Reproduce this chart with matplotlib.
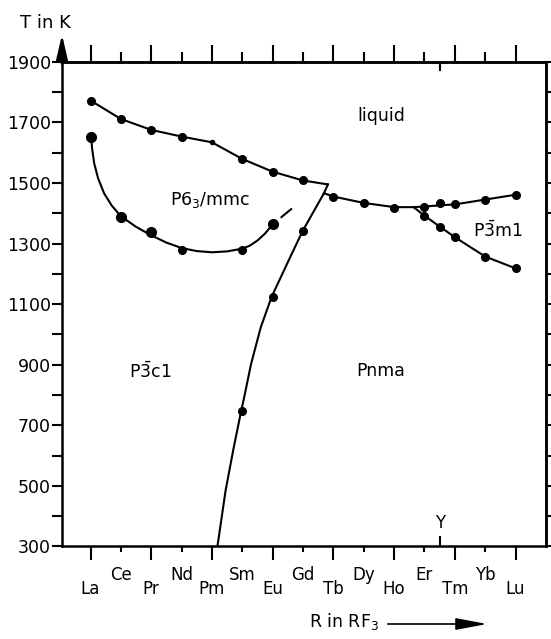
import numpy as np
import matplotlib
matplotlib.use("Agg")
import matplotlib.pyplot as plt
import matplotlib.transforms as mtransforms
from matplotlib import patches

plt.rcParams['font.family'] = ['DejaVu Sans']

# rare earth elements along the x axis (category index = position)
elements = ["La", "Ce", "Pr", "Nd", "Pm", "Sm", "Eu", "Gd",
            "Tb", "Dy", "Ho", "Er", "Tm", "Yb", "Lu"]
y_pos = 11.5  # position of yttrium

# liquidus, La..Gd side (measured points)
liq_left_x = [0, 1, 2, 3, 5, 6, 7]
liq_left_T = [1772, 1711, 1675, 1653, 1579, 1537, 1508]
pm_x = [4]
pm_T = [1634]
liq_left_line_x = [0, 1, 2, 3, 4, 5, 6, 7, 7.82]
liq_left_line_T = [1772, 1711, 1675, 1653, 1634, 1579, 1537, 1508, 1495]

# short step at the triple point
step_x = [7.82, 7.69]
step_T = [1495, 1466]

# liquidus, Tb..Lu side
liq_right_x = [8, 9, 10, 11, 11.5, 12, 13, 14]
liq_right_T = [1455, 1434, 1418, 1422, 1433, 1431, 1445, 1461]
liq_right_line_x = [7.69, 8, 9, 10, 10.64, 11, 11.5, 12, 13, 14]
liq_right_line_T = [1466, 1455, 1434, 1420, 1420, 1422, 1426, 1429, 1445, 1461]

# P-3m1 / Pnma boundary
trig_x = [11, 11.5, 12, 13, 14]
trig_T = [1392, 1356, 1321, 1257, 1218]
trig_line_x = [10.64, 11, 11.5, 12, 13, 14]
trig_line_T = [1420, 1392, 1356, 1321, 1257, 1218]

# P6_3/mmc lower boundary
hex_x = [0, 1, 2, 3, 5, 6]
hex_T = [1651, 1387, 1337, 1277, 1280, 1363]
hex_big = [True, True, True, False, False, True]
hex_line_x = [0.02, 0.05, 0.12, 0.25, 0.45, 0.7, 1.0, 1.5, 2.0, 2.5, 3.0,
              3.5, 4.0, 4.5, 5.0, 5.25, 5.5, 5.75, 6.0]
hex_line_T = [1651, 1615, 1565, 1515, 1465, 1425, 1390, 1355, 1327, 1303, 1285,
              1275, 1271, 1274, 1283, 1293, 1310, 1333, 1363]
hex_dash_x = [6.0, 6.71]
hex_dash_T = [1363, 1422]

# P-3c1 / Pnma boundary
orth_x = [7, 6, 5]
orth_T = [1340, 1125, 746]
orth_line_x = [7.69, 6.98, 6.47, 5.97, 5.61, 5.29, 5.04, 4.96, 4.72, 4.45, 4.18]
orth_line_T = [1466, 1340, 1232, 1125, 1024, 903, 782, 746, 628, 485, 300]

# phase labels
phase_names = ["liquid", "P6$_3$/mmc", "P$\\bar{3}$m1", "P$\\bar{3}$c1", "Pnma"]
phase_x = [9.59, 3.95, 13.43, 1.96, 9.57]
phase_T = [1722, 1442, 1343, 878, 878]

fig = plt.figure(figsize=(5.51, 6.39), dpi=100)
ax = fig.add_axes([0.1125, 0.1448, 0.8793, 0.7586])

lw = 1.5
ax.plot(liq_left_line_x, liq_left_line_T, color="k", lw=lw)
ax.plot(step_x, step_T, color="k", lw=lw)
ax.plot(liq_right_line_x, liq_right_line_T, color="k", lw=lw)
ax.plot(trig_line_x, trig_line_T, color="k", lw=lw)
ax.plot(hex_line_x, hex_line_T, color="k", lw=lw)
ax.plot(hex_dash_x, hex_dash_T, color="k", lw=lw, linestyle=(0, (2, 3, 7, 20)))
ax.plot(orth_line_x, orth_line_T, color="k", lw=lw)

ms = 5.5
ax.plot(liq_left_x, liq_left_T, "o", color="k", ms=ms)
ax.plot(pm_x, pm_T, "o", color="k", ms=3)
ax.plot(liq_right_x, liq_right_T, "o", color="k", ms=ms)
ax.plot(trig_x, trig_T, "o", color="k", ms=ms)
ax.plot(orth_x, orth_T, "o", color="k", ms=ms)
for x, t, big in zip(hex_x, hex_T, hex_big):
    ax.plot(x, t, "o", color="k", ms=7 if big else ms)

for name, x, t in zip(phase_names, phase_x, phase_T):
    ax.text(x, t, name, fontsize=12.5, ha="center", va="center")

ax.set_xlim(-0.94, 15.02)
ax.set_ylim(300, 1900)

for s in ax.spines.values():
    s.set_linewidth(1.8)

pos = np.arange(len(elements))
ax.set_xticks(pos[::2])
ax.set_xticks(pos[1::2], minor=True)
ax.tick_params(axis="x", which="major", length=10, width=1.5, direction="out",
               labelbottom=False, top=False)
ax.tick_params(axis="x", which="minor", length=4.5, width=1.5, direction="out",
               labelbottom=False, top=False)

top = ax.secondary_xaxis("top")
top.set_xticks(pos[::2])
top.set_xticks(pos[1::2], minor=True)
top.tick_params(which="major", length=12, width=1.5, direction="out", labeltop=False)
top.tick_params(which="minor", length=7, width=1.5, direction="out", labeltop=False)
top.spines["top"].set_linewidth(1.8)

ax.set_yticks(np.arange(300, 1901, 200))
ax.set_yticks(np.arange(400, 1801, 200), minor=True)
ax.tick_params(axis="y", which="both", length=7, width=1.5, direction="out",
               labelsize=12.5, pad=1, right=False)

right = ax.secondary_yaxis("right")
right.set_yticks(np.arange(300, 1901, 100))
right.tick_params(length=3.5, width=1.5, direction="out", labelright=False)
right.spines["right"].set_linewidth(1.8)

# element labels in two rows
trans = mtransforms.blended_transform_factory(ax.transData, ax.transAxes)
for i, el in enumerate(elements):
    yy = -0.099 if i % 2 == 0 else -0.070
    ax.text(i, yy, el, transform=trans, ha="center", va="baseline", fontsize=12)

# yttrium marker
ax.axvline(y_pos, ymin=0, ymax=0.02, color="k", lw=1.5)
ax.axvline(y_pos, ymin=0.983, ymax=1, color="k", lw=1.5)
ax.text(y_pos, 0.03, "Y", transform=trans, ha="center", va="bottom", fontsize=12)

# temperature axis arrow
ax.annotate("", xy=(0, 1.062), xytext=(0, 0.99), xycoords="axes fraction",
            arrowprops=dict(arrowstyle="-|>,head_length=1.3,head_width=0.3",
                            lw=1.8, color="k", mutation_scale=12))
fig.text(45 / 551, 1 - 23 / 639, "T in K", fontsize=13, ha="center", va="center")

# x axis title with arrow
fig.text(309 / 551, 1 - 622 / 639, "R in RF$_3$", fontsize=12.5, ha="left", va="center")
fig.patches.append(patches.FancyArrowPatch(
    (385 / 551, 1 - 624 / 639), (490 / 551, 1 - 624 / 639),
    transform=fig.transFigure, arrowstyle="-|>,head_length=1.6,head_width=0.3",
    mutation_scale=12, lw=1.2, color="k"))

plt.savefig("out.png", dpi=100)
